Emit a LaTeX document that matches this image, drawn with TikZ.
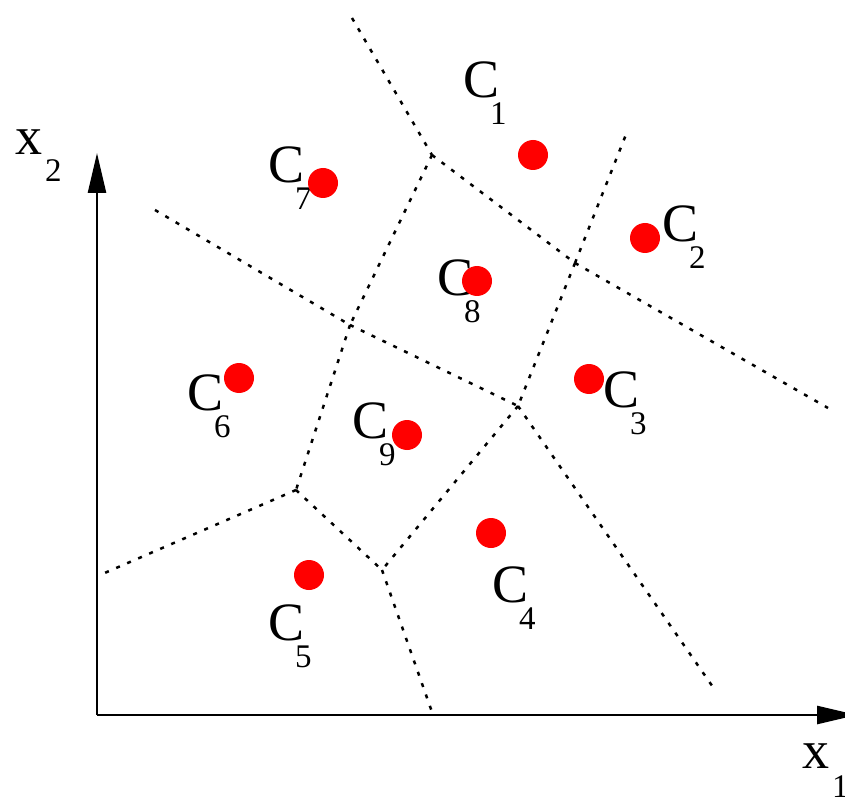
\documentclass[tikz,border=0pt]{standalone}
\usepackage{fontspec}
\setmainfont{Liberation Serif}
\usetikzlibrary{arrows.meta}
\newcommand{\bigsz}{\fontsize{54}{54}\selectfont}
\newcommand{\subsz}{\fontsize{33}{33}\selectfont}
\newcommand{\clab}[1]{C\kern-9pt\raisebox{-27pt}{\subsz #1}}
\tikzset{
  border/.style={dash pattern=on 4pt off 8pt, line width=2.5pt, line cap=butt},
  axisline/.style={line width=2.5pt, -{Triangle[length=40pt,width=18pt]}},
  seed/.style={circle, fill=red, draw=none, minimum size=30pt, inner sep=0pt},
  lab/.style={anchor=base west, inner sep=0pt, outer sep=0pt, font=\bigsz},
}
\begin{document}
\begin{tikzpicture}[x=1pt,y=-1pt]
\useasboundingbox (0,0) rectangle (845,799);
% region borders
\coordinate (A) at (352,18);
\coordinate (V1) at (432,155);
\coordinate (V2) at (575,263);
\coordinate (B) at (627,132);
\coordinate (D) at (828,408);
\coordinate (E) at (155,210);
\coordinate (V3) at (350,325);
\coordinate (V4) at (518,406);
\coordinate (F) at (715,690);
\coordinate (V5) at (382,570);
\coordinate (G) at (432,712);
\coordinate (V6) at (296,490);
\coordinate (H) at (100,575);
\draw[border] (A) -- (V1);
\draw[border] (V1) -- (V2);
\draw[border] (V2) -- (B);
\draw[border] (V2) -- (D);
\draw[border] (E) -- (V3);
\draw[border] (V3) -- (V4);
\draw[border] (V1) -- (V3);
\draw[border] (V2) -- (V4);
\draw[border] (V4) -- (F);
\draw[border] (V4) -- (V5);
\draw[border] (V5) -- (G);
\draw[border] (V3) -- (V6);
\draw[border] (V6) -- (H);
\draw[border] (V6) -- (V5);
% axes
\coordinate (O) at (97,715);
\coordinate (Xend) at (857,715);
\coordinate (Yend) at (97,153);
\draw[axisline] (O) -- (Xend);
\draw[axisline] (O) -- (Yend);
\node[lab] (x1) at (802,768) {x\kern3pt\raisebox{-29pt}{\subsz 1}};
\node[lab] (x2) at (15,155) {x\kern3pt\raisebox{-27pt}{\subsz 2}};
% labels
\node[lab] (l1) at (463,98) {\clab{1}};
\node[lab] (l2) at (662,242) {\clab{2}};
\node[lab] (l3) at (603,407) {\clab{3}};
\node[lab] (l4) at (492,602) {\clab{4}};
\node[lab] (l5) at (268,640) {\clab{5}};
\node[lab] (l6) at (187,410) {\clab{6}};
\node[lab] (l7) at (268,183) {\clab{7}};
\node[lab] (l8) at (437,295) {\clab{8}};
\node[lab] (l9) at (352,438) {\clab{9}};
% seeds
\node[seed] (c1) at (533,155) {};
\node[seed] (c2) at (645,238) {};
\node[seed] (c3) at (589,379) {};
\node[seed] (c4) at (491,533) {};
\node[seed] (c5) at (309,575) {};
\node[seed] (c6) at (239,378) {};
\node[seed] (c7) at (323,183) {};
\node[seed] (c8) at (477,281) {};
\node[seed] (c9) at (407,435) {};
\end{tikzpicture}
\end{document}
